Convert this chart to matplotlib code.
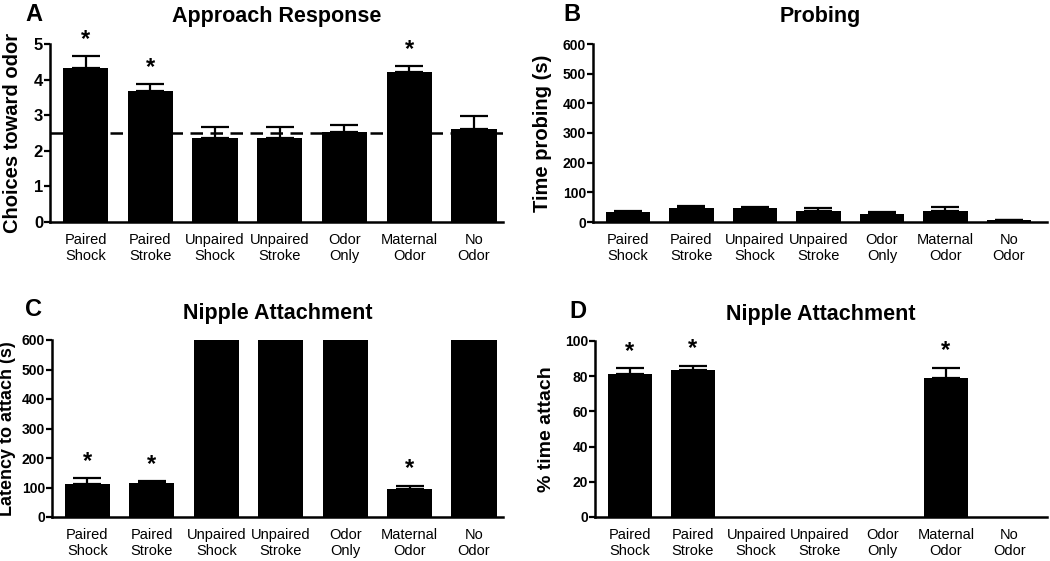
"""Four-panel bar figure: approach, probing and nipple attachment by group."""

import matplotlib

matplotlib.use("Agg")

import matplotlib.pyplot as plt  # noqa: E402
import numpy as np  # noqa: E402

plt.rcParams["font.family"] = ["Liberation Sans", "DejaVu Sans"]

groups = ["Paired\nShock", "Paired\nStroke", "Unpaired\nShock", "Unpaired\nStroke",
          "Odor\nOnly", "Maternal\nOdor", "No\nOdor"]

approach_mean = [4.33, 3.68, 2.36, 2.36, 2.53, 4.20, 2.61]
approach_sem = [0.33, 0.19, 0.30, 0.30, 0.19, 0.17, 0.37]
approach_sig = [True, True, False, False, False, True, False]
chance_level = 2.5

probing_mean = [33, 46, 46, 38, 27, 38, 6]
probing_sem = [3, 8, 5, 10, 8, 13, 2]

latency_mean = [112, 115, 600, 600, 600, 94, 600]
latency_sem = [19, 6, 0, 0, 0, 11, 0]
latency_sig = [True, True, False, False, False, True, False]

attach_mean = [81, 83.6, 0, 0, 0, 79.1, 0]
attach_sem = [3.4, 2.3, 0, 0, 0, 5.8, 0]
attach_sig = [True, True, False, False, False, True, False]


def bar_panel(fig, rect, letter, letter_xy, title, title_pad, ylabel, ylabel_x,
              means, sems, ylim, yticks, xlim, tick_size=10, ylabel_size=14.5,
              sig=None, hline=None):
    ax = fig.add_axes(rect)
    x = np.arange(len(groups))
    means = np.asarray(means, dtype=float)
    sems = np.asarray(sems, dtype=float)
    ax.bar(x, means, width=0.7, color="black", zorder=2)
    has_err = sems > 0
    ax.errorbar(x[has_err], means[has_err],
                yerr=[np.zeros(has_err.sum()), sems[has_err]], fmt="none",
                ecolor="black", elinewidth=1.6, capsize=10, capthick=1.6,
                zorder=3)
    if hline is not None:
        ax.axhline(hline, color="black", lw=1.8, ls=(0, (5, 3)), zorder=4)
    if sig is not None:
        for xi, m, s, flag in zip(x, means, sems, sig):
            if flag:
                ax.annotate("*", (xi, m + s), xytext=(0, 4),
                            textcoords="offset points", ha="center",
                            va="bottom", fontsize=17, fontweight="bold",
                            annotation_clip=False)
    ax.set_xlim(*xlim)
    ax.set_ylim(*ylim)
    ax.set_yticks(yticks)
    ax.set_xticks(x)
    ax.set_xticklabels(groups, fontsize=10.5, linespacing=1.15)
    ax.tick_params(axis="x", length=0, pad=8)
    ax.tick_params(axis="y", width=1.6, length=4, pad=1, labelsize=tick_size)
    for lab in ax.get_yticklabels():
        lab.set_fontweight("bold")
    for side in ("top", "right"):
        ax.spines[side].set_visible(False)
    for side in ("left", "bottom"):
        ax.spines[side].set_linewidth(1.8)
    ax.set_ylabel(ylabel, fontsize=ylabel_size, fontweight="bold")
    ax.yaxis.set_label_coords(ylabel_x, 0.5)
    ax.set_title(title, fontsize=15.5, fontweight="bold", pad=title_pad)
    ax.text(letter_xy[0], letter_xy[1], letter, transform=ax.transAxes,
            fontsize=17, fontweight="bold", ha="center", va="bottom")
    return ax


def main():
    fig = plt.figure(figsize=(10.5, 5.61), dpi=100)
    W, H = 1050, 561

    def rect(left, right, top, bottom):
        return [left / W, 1 - bottom / H, (right - left) / W, (bottom - top) / H]

    bar_panel(fig, rect(50, 503, 44, 222), "A", (-0.035, 1.1),
              "Approach Response", 16, "Choices toward odor", -0.062,
              approach_mean, approach_sem, (0, 5), range(0, 6), (-0.55, 6.45),
              tick_size=12, sig=approach_sig, hline=chance_level)
    bar_panel(fig, rect(593, 1047, 44, 222), "B", (-0.046, 1.1),
              "Probing", 16, "Time probing (s)", -0.09,
              probing_mean, probing_sem, (0, 600), range(0, 601, 100),
              (-0.55, 6.6))
    bar_panel(fig, rect(52, 503, 340, 517), "C", (-0.04, 1.11),
              "Nipple Attachment", 15, "Latency to attach (s)", -0.08,
              latency_mean, latency_sem, (0, 600), range(0, 601, 100),
              (-0.55, 6.45), ylabel_size=13, sig=latency_sig)
    bar_panel(fig, rect(595, 1047, 341, 517), "D", (-0.037, 1.1),
              "Nipple Attachment", 15, "% time attach", -0.088,
              attach_mean, attach_sem, (0, 100), range(0, 101, 20),
              (-0.55, 6.6), ylabel_size=14, sig=attach_sig)
    fig.savefig("out.png", dpi=100)
    plt.close(fig)


if __name__ == "__main__":
    main()
